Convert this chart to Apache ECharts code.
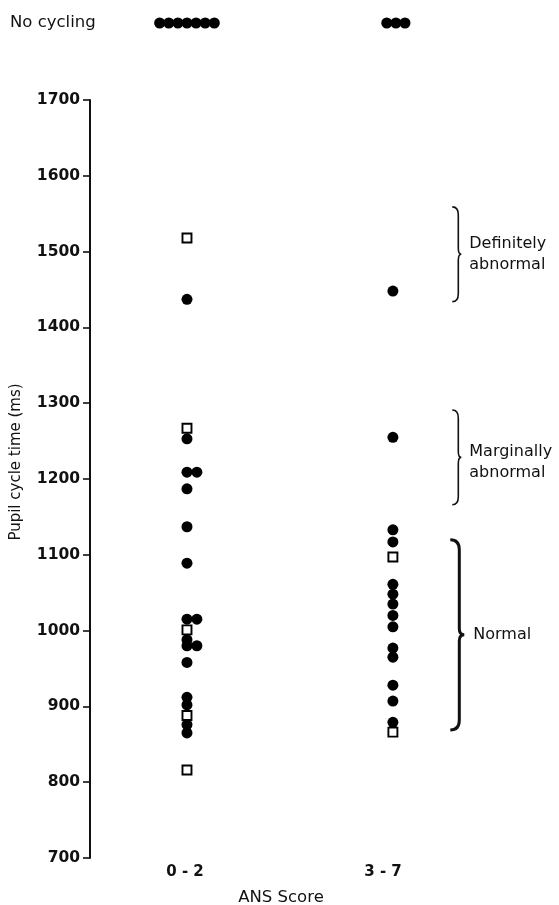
<!DOCTYPE html>
<html><head><meta charset="utf-8">
<script src="https://cdn.jsdelivr.net/npm/echarts/dist/echarts.min.js"></script>
<style>html,body{margin:0;padding:0;background:#fff}#c{width:559px;height:905px}</style>
</head><body><div id="c"></div>
<script>
// ---- data ----
const categories = ['0 - 2', '3 - 7'];
const groupPos = [1.02, 3.10];            // x position of each group on hidden value axis
const dots02 = [1437, 1253, 1209, 1209, 1187, 1137, 1089, 1015, 1015, 988, 980, 980, 958, 912, 902, 876, 865];
const dots02Jitter = [0, 0, 0, 1, 0, 0, 0, 0, 1, 0, 0, 1, 0, 0, 0, 0, 0];
const squares02 = [1518, 1267, 1001, 888, 816];
const dots37 = [1448, 1255, 1133, 1117, 1061, 1048, 1035, 1020, 1005, 977, 965, 928, 907, 879];
const squares37 = [1097, 866];
const noCyclingCounts = [7, 3];
const bracketLabels = ['Definitely\nabnormal', 'Marginally\nabnormal', 'Normal'];
const bracketFrom = [1559, 1291, 1120];
const bracketTo = [1434, 1166, 869];
const bracketX = 3.70;

// ---- build ----
const FONT = 'DejaVu Sans';
const jitterStep = 0.1;
const ncStep = 0.092;
const dotData = dots02.map((v, i) => [groupPos[0] + dots02Jitter[i] * jitterStep, v])
  .concat(dots37.map(v => [groupPos[1], v]));
const sqData = squares02.map(v => [groupPos[0], v]).concat(squares37.map(v => [groupPos[1], v]));
const ncData = [];
noCyclingCounts.forEach((n, g) => {
  for (let k = 0; k < n; k++) ncData.push([groupPos[g] + (k - (n - 1) / 2) * ncStep + (g === 1 ? 0.03 : 0), 'No cycling']);
});
const bracketData = bracketLabels.map((l, i) => [bracketX, bracketFrom[i], bracketTo[i]]);

function renderBracket(params, api) {
  const i = params.dataIndex;
  const p1 = api.coord([api.value(0), api.value(1)]);
  const p2 = api.coord([api.value(0), api.value(2)]);
  const thick = i === 2;
  const x = p1[0] - (thick ? 2 : 0), t = p1[1], b = p2[1], m = (t + b) / 2;
  const d = thick ? 9 : 6, tip = thick ? 5 : 3, c = thick ? 10 : 8;
  const vx = x + d;
  const path = `M${x} ${t} Q${vx} ${t} ${vx} ${t + c} L${vx} ${m - 6} Q${vx} ${m} ${vx + tip} ${m} ` +
    `Q${vx} ${m} ${vx} ${m + 6} L${vx} ${b - c} Q${vx} ${b} ${x} ${b}`;
  return {
    type: 'group',
    children: [
      { type: 'path', shape: { pathData: path }, style: { fill: 'none', stroke: '#111', lineWidth: thick ? 3 : 1.6 } },
      { type: 'text', style: { text: bracketLabels[i], x: vx + tip + (thick ? 9 : 8), y: m + (i === 1 ? 5 : 0),
        fill: '#111', font: `16px "${FONT}"`, verticalAlign: 'middle', align: 'left', lineHeight: 21 } }
    ]
  };
}

const chart = echarts.init(document.getElementById('c'));
chart.setOption({
  animation: false,
  backgroundColor: '#fff',
  grid: [
    { left: 86, right: 77, top: 100, bottom: 47, containLabel: false, outerBoundsMode: 'none' },
    { left: 86, right: 77, top: 12, height: 22, containLabel: false, outerBoundsMode: 'none' }
  ],
  xAxis: [
    { type: 'category', gridIndex: 0, data: categories, boundaryGap: true,
      axisLine: { show: false }, axisTick: { show: false }, splitLine: { show: false },
      axisLabel: { color: '#111', fontFamily: FONT, fontWeight: 'bold', fontSize: 15, margin: 7 },
      name: 'ANS Score', nameLocation: 'middle', nameGap: 31,
      nameTextStyle: { color: '#111', fontFamily: FONT, fontSize: 16.5, padding: [0, 6, 0, 0] } },
    { type: 'value', gridIndex: 0, min: 0, max: 4, show: false },
    { type: 'value', gridIndex: 1, min: 0, max: 4, show: false }
  ],
  yAxis: [
    { type: 'value', gridIndex: 0, min: 700, max: 1700, interval: 100, offset: -4,
      axisLine: { show: true, lineStyle: { color: '#111', width: 2 } },
      axisTick: { show: true, inside: false, length: 7, lineStyle: { color: '#111', width: 1.6 } },
      splitLine: { show: false },
      axisLabel: { color: '#111', fontFamily: FONT, fontWeight: 'bold', fontSize: 15.5, margin: 10,
        formatter: v => String(v) },
      name: 'Pupil cycle time (ms)', nameLocation: 'middle', nameRotate: 90, nameGap: 66,
      nameTextStyle: { color: '#111', fontFamily: FONT, fontSize: 15, padding: [0, 0, 0, 34] } },
    { type: 'category', gridIndex: 1, data: ['No cycling'],
      axisLine: { show: false }, axisTick: { show: false }, splitLine: { show: false },
      axisLabel: { color: '#111', fontFamily: FONT, fontSize: 16.5, align: 'left', margin: 76 } }
  ],
  series: [
    { type: 'scatter', xAxisIndex: 1, yAxisIndex: 0, data: dotData, symbol: 'circle', symbolSize: 11,
      itemStyle: { color: '#000', opacity: 1 }, silent: true },
    { type: 'scatter', xAxisIndex: 1, yAxisIndex: 0, data: sqData, symbol: 'rect', symbolSize: 9,
      itemStyle: { color: '#fff', borderColor: '#000', borderWidth: 1.9, opacity: 1 }, silent: true, z: 3 },
    { type: 'scatter', xAxisIndex: 2, yAxisIndex: 1, data: ncData, symbol: 'circle', symbolSize: 11,
      itemStyle: { color: '#000', opacity: 1 }, silent: true },
    { type: 'custom', xAxisIndex: 1, yAxisIndex: 0, data: bracketData, renderItem: renderBracket, clip: false, silent: true }
  ]
});
</script></body></html>
